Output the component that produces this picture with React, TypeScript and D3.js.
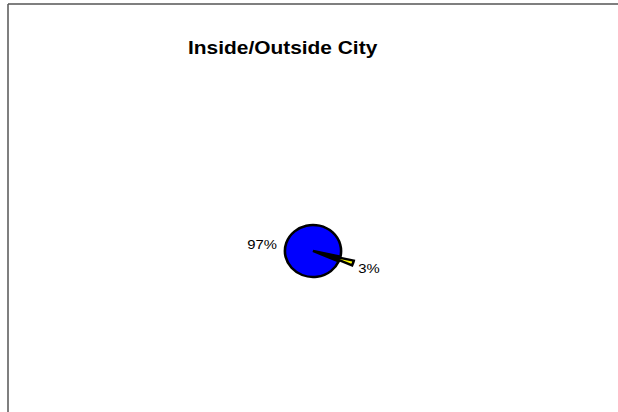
import React from "react";
import * as d3 from "d3";

const categories = ["Inside City", "Outside City"];
const values = [97, 3];
const labels = ["97%", "3%"];
const colors = ["#0000FF", "#FFFF00"];
const explode = [0, 13];

const W = 618;
const H = 412;
const cx = 313;
const cy = 251;
const R = 26;
const SX = 1.08;
const TS = 1.1;

export default function App() {
  const total = d3.sum(values);
  const lastFrac = values[values.length - 1] / total;
  const mid = (108 * Math.PI) / 180;
  const start = mid - (1 - lastFrac / 2) * 2 * Math.PI;
  const pie = d3
    .pie<number>()
    .sort(null)
    .startAngle(start)
    .endAngle(start + 2 * Math.PI);
  const arcs = pie(values);
  const arc = d3.arc<d3.PieArcDatum<number>>().innerRadius(0).outerRadius(R);

  const labelPos = arcs.map((a, i) => {
    const m = (a.startAngle + a.endAngle) / 2;
    const lr = i === 0 ? R + 9 : R + 18;
    const x = cx + lr * Math.sin(m) * SX;
    const y = cy - lr * Math.cos(m) + 5;
    return { x, y, anchor: Math.sin(m) < 0 ? "end" : "start" };
  });

  return (
    <svg
      width={W}
      height={H}
      style={{ position: "absolute", left: 0, top: 0, background: "#fff" }}
      fontFamily="'Liberation Sans', Arial, sans-serif"
    >
      <rect x={0} y={0} width={W} height={H} fill="#fff" />
      <line x1={8} y1={4} x2={W} y2={4} stroke="#555" strokeWidth={1.5} />
      <line x1={8} y1={4} x2={8} y2={H} stroke="#555" strokeWidth={1.5} />
      <text
        x={188 / TS}
        y={54}
        transform={`scale(${TS},1)`}
        fontSize={19}
        fontWeight="bold"
        fill="#000"
      >
        Inside/Outside City
      </text>
      <g transform={`translate(${cx},${cy}) scale(${SX},1)`}>
        {arcs.map((a, i) => {
          const m = (a.startAngle + a.endAngle) / 2;
          const dx = explode[i] * Math.sin(m);
          const dy = -explode[i] * Math.cos(m);
          return (
            <path
              key={categories[i]}
              d={arc(a) || ""}
              transform={`translate(${dx},${dy})`}
              fill={colors[i]}
              stroke="#000"
              strokeWidth={2.4}
              strokeLinejoin="miter"
            />
          );
        })}
      </g>
      {arcs.map((a, i) => (
        <text
          key={labels[i]}
          x={labelPos[i].x / TS}
          y={labelPos[i].y}
          transform={`scale(${TS},1)`}
          textAnchor={labelPos[i].anchor}
          dominantBaseline="middle"
          fontSize={13.5}
          fill="#000"
        >
          {labels[i]}
        </text>
      ))}
    </svg>
  );
}
